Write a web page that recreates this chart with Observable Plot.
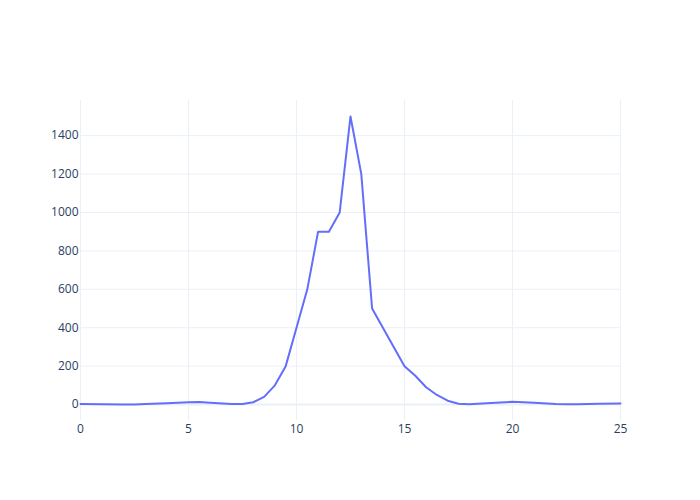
<!DOCTYPE html>
<html>
<head>
<meta charset="utf-8">
<script src="https://cdn.jsdelivr.net/npm/d3@7"></script>
<script src="https://cdn.jsdelivr.net/npm/@observablehq/plot@0.6"></script>
<style>
  html, body { margin: 0; padding: 0; background: #fff; }
  #chart { width: 700px; height: 500px; }
</style>
</head>
<body>
<div id="chart"></div>
<script>
const xValues = [0, 1, 2, 2.5, 3, 4, 5, 5.5, 6, 7, 7.5, 8, 8.5, 9, 9.5, 10, 10.5, 11, 11.5, 12, 12.5, 13, 13.5, 14, 14.5, 15, 15.5, 16, 16.5, 17, 17.5, 18, 19, 20, 21, 22, 22.5, 23, 24, 25];
const yValues = [3, 2, 0, 0, 3, 7, 12, 13, 10, 3, 3, 12, 40, 100, 200, 400, 600, 900, 900, 1000, 1500, 1200, 500, 400, 300, 200, 150, 90, 50, 20, 4, 2, 8, 14, 10, 3, 2, 2, 4, 6];
const xTicks = [0, 5, 10, 15, 20, 25];
const yTicks = [0, 200, 400, 600, 800, 1000, 1200, 1400];

const data = xValues.map((x, i) => ({x, y: yValues[i]}));

const chart = Plot.plot({
  width: 700,
  height: 500,
  marginLeft: 80,
  marginRight: 80,
  marginTop: 100,
  marginBottom: 80,
  style: {fontFamily: "'Open Sans', sans-serif", fontSize: "12px", color: "#2a3f5f", background: "#fff"},
  x: {domain: [0, 25], label: null},
  y: {domain: [-83, 1583], label: null},
  marks: [
    Plot.gridX(xTicks, {stroke: "#ebf0f8", strokeOpacity: 1, strokeWidth: 1}),
    Plot.gridY(yTicks, {stroke: "#ebf0f8", strokeOpacity: 1, strokeWidth: 1}),
    Plot.ruleY([0], {stroke: "#ebf0f8", strokeWidth: 2}),
    Plot.axisX({ticks: xTicks, tickSize: 0, tickPadding: 4, tickFormat: d => String(d), fill: "#2a3f5f", label: null}),
    Plot.axisY({ticks: yTicks, tickSize: 0, tickPadding: 2, tickFormat: d => String(d), fill: "#2a3f5f", label: null}),
    Plot.line(data, {x: "x", y: "y", stroke: "#636efa", strokeWidth: 2, curve: "linear"})
  ]
});
document.getElementById("chart").appendChild(chart);
</script>
</body>
</html>
